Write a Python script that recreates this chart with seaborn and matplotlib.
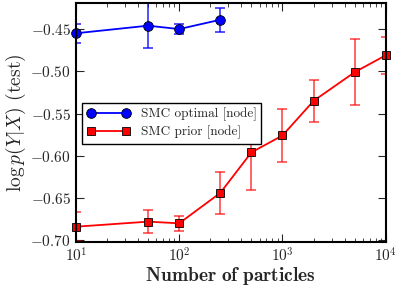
import numpy as np
import pandas as pd
import seaborn as sns
from matplotlib import pyplot as plt

# data
opt_n = [10, 50, 100, 250]
opt_mean = [-0.455, -0.446, -0.450, -0.439]
opt_err = [0.011, 0.027, 0.006, 0.014]

prior_n = [10, 50, 100, 250, 500, 1000, 2000, 5000, 10000]
prior_mean = [-0.684, -0.678, -0.680, -0.644, -0.596, -0.576, -0.535, -0.501, -0.481]
prior_err = [0.017, 0.014, 0.009, 0.025, 0.044, 0.031, 0.025, 0.039, 0.022]

sns.set_style('ticks')
plt.rcParams['font.family'] = ['serif']
plt.rcParams['font.serif'] = ['cmr10']
plt.rcParams['mathtext.fontset'] = 'cm'
plt.rcParams['axes.formatter.use_mathtext'] = True
plt.rcParams['axes.unicode_minus'] = True

df_opt = pd.DataFrame({'n': opt_n, 'll': opt_mean})
df_prior = pd.DataFrame({'n': prior_n, 'll': prior_mean})

fig = plt.figure(figsize=(3.99, 2.88), dpi=100)
ax = fig.add_axes([0.19, 0.16, 0.777, 0.83])

ax.errorbar(opt_n, opt_mean, yerr=opt_err, fmt='none', ecolor='blue',
            elinewidth=1.2, capsize=3.5, capthick=1.2, alpha=0.8)
ax.errorbar(prior_n, prior_mean, yerr=prior_err, fmt='none', ecolor='red',
            elinewidth=1.2, capsize=3.5, capthick=1.2, alpha=0.7)

sns.lineplot(data=df_opt, x='n', y='ll', ax=ax, color='blue', marker='o',
             markersize=7, markeredgecolor='black', markeredgewidth=0.6,
             linewidth=1.3, label='SMC optimal [node]', clip_on=False)
sns.lineplot(data=df_prior, x='n', y='ll', ax=ax, color='red', marker='s',
             markersize=6, markeredgecolor='black', markeredgewidth=0.6,
             linewidth=1.3, label='SMC prior [node]', clip_on=False)

ax.set_xscale('log')
ax.set_xlim(10, 10000)
ax.set_ylim(-0.702, -0.419)
ax.set_yticks([-0.70, -0.65, -0.60, -0.55, -0.50, -0.45])
ax.set_yticklabels(['$-0.70$', '$-0.65$', '$-0.60$', '$-0.55$', '$-0.50$', '$-0.45$'])

ax.tick_params(which='both', direction='in', top=True, right=True, labelsize=11)
ax.tick_params(which='major', length=6, width=0.8)
ax.tick_params(which='minor', length=3, width=0.6)
for s in ax.spines.values():
    s.set_linewidth(1.5)
    s.set_color('black')

ax.set_xlabel(r'$\mathbf{Number\ of\ particles}$', fontsize=14, labelpad=0)
ax.set_ylabel(r'$\log p(Y|X)$ (test)', fontsize=14, labelpad=2)

leg = ax.legend(loc='upper left', bbox_to_anchor=(0.02, 0.58), numpoints=2,
                fontsize=9.5, fancybox=False, framealpha=1, borderaxespad=0,
                handlelength=3.3, borderpad=0.35, labelspacing=0.3)
leg.get_frame().set_edgecolor('black')
leg.get_frame().set_linewidth(1.0)

fig.savefig('out.png', dpi=100)
